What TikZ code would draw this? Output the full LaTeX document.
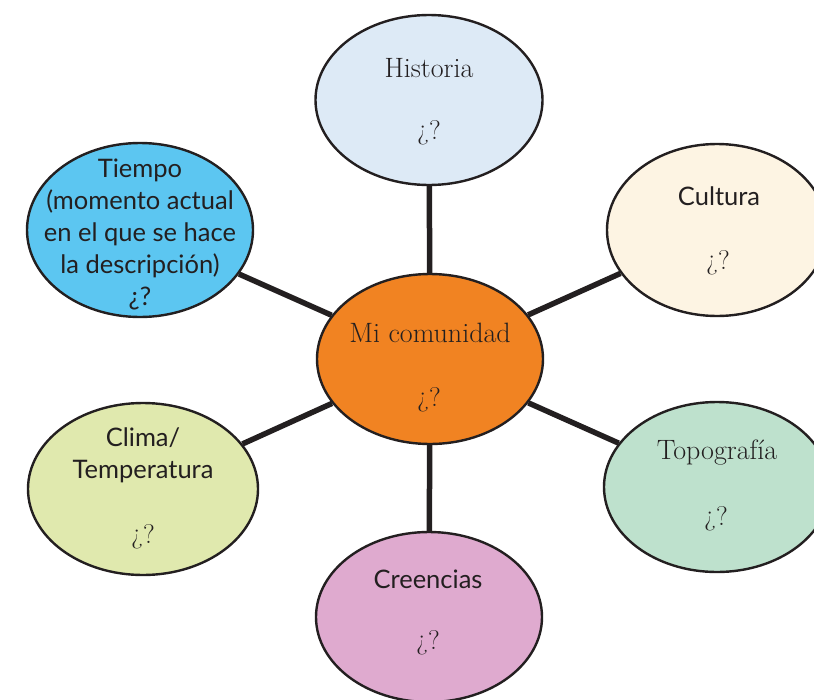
\documentclass[tikz,border=0pt]{standalone}
\usepackage{fontspec}
\setsansfont{Lato}
\usetikzlibrary{shapes.geometric,backgrounds}
\definecolor{ink}{HTML}{231F20}
\definecolor{chist}{HTML}{DDEAF6}
\definecolor{ccult}{HTML}{FDF4E3}
\definecolor{ctiem}{HTML}{5CC6F1}
\definecolor{cmc}{HTML}{F18322}
\definecolor{cclim}{HTML}{E0E9AE}
\definecolor{ctopo}{HTML}{BEE1CD}
\definecolor{ccree}{HTML}{DFAACF}
\begin{document}
\begin{tikzpicture}[x=1pt,y=-1pt,
  bub/.style={ellipse, draw=ink, line width=2.4pt, inner sep=0pt},
  link/.style={draw=ink, line width=5.5pt},
  lab/.style={text=ink, font=\fontsize{25.5}{32}\selectfont\sffamily, align=center, inner sep=0pt},
  slab/.style={text=ink, font=\fontsize{28}{32}\selectfont, align=center, inner sep=0pt},
  q/.style={text=ink, font=\fontsize{27}{32}\selectfont, inner sep=0pt}]
\useasboundingbox (0,0) rectangle (814,699);
\clip (0,0) rectangle (814,699);
% ellipses
\node[bub, fill=chist, minimum width=227, minimum height=170] (hist) at (429,100) {};
\node[bub, fill=ccult, minimum width=220, minimum height=172] (cult) at (717,230) {};
\node[bub, fill=ctiem, minimum width=226, minimum height=174] (tiem) at (140,230) {};
\node[bub, fill=cmc,   minimum width=226, minimum height=170] (mc)   at (430,359) {};
\node[bub, fill=cclim, minimum width=230, minimum height=172] (clim) at (143,489) {};
\node[bub, fill=ctopo, minimum width=226, minimum height=170] (topo) at (717,487) {};
\node[bub, fill=ccree, minimum width=226, minimum height=170] (cree) at (429,617) {};
% connectors
\begin{scope}[on background layer]
\draw[link] (mc) -- (hist);
\draw[link] (mc) -- (cult);
\draw[link] (mc) -- (tiem);
\draw[link] (mc) -- (clim);
\draw[link] (mc) -- (topo);
\draw[link] (mc) -- (cree);
\end{scope}
% labels
\node[slab] (thist) at (429,68) {Historia};
\node[q] (qhist) at (429,133) {¿?};
\node[lab] (tcult) at (719,196) {Cultura};
\node[q] (qcult) at (718,263) {¿?};
\node[lab] (ttiem) at (140,234) {Tiempo\\(momento actual\\en el que se hace\\la descripción)\\¿?};
\node[slab] (tmc) at (430,333) {Mi comunidad};
\node[q] (qmc) at (429,400) {¿?};
\node[lab] (tclim) at (143,455) {Clima/\\Temperatura};
\node[q] (qclim) at (143,537) {¿?};
\node[slab] (ttopo) at (717,453) {Topografía};
\node[q] (qtopo) at (716,519) {¿?};
\node[lab] (tcree) at (428,579) {Creencias};
\node[q] (qcree) at (428,643) {¿?};
\end{tikzpicture}
\end{document}
